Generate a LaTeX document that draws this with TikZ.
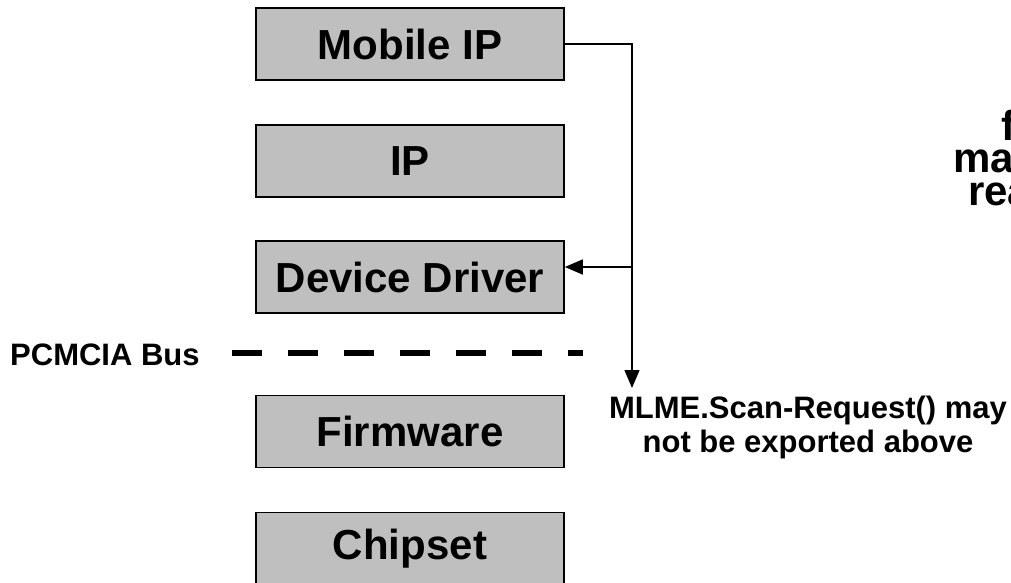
\documentclass[tikz,border=0pt]{standalone}
\usepackage{fontspec}
\setmainfont{Liberation Sans}
\usetikzlibrary{arrows.meta}
\begin{document}
\begin{tikzpicture}[x=1pt,y=-1pt,
  layer/.style={draw=black,line width=1.6pt,fill=black!25,minimum width=308pt,minimum height=72pt,inner sep=0pt,font=\fontsize{42}{48}\selectfont\bfseries},
  conn/.style={line width=1.5pt},
  tip/.style={-{Triangle[length=18pt,width=15pt]}},
  lbl/.style={font=\fontsize{31}{34}\selectfont\bfseries,inner sep=0pt},
  side/.style={font=\fontsize{42}{46}\selectfont\bfseries,inner sep=0pt,anchor=base west,text depth=0pt}]
\clip (0,0) rectangle (1011,583);
\useasboundingbox (0,0) rectangle (1011,583);
\node[layer] (mip) at (410,44) {Mobile IP};
\node[layer] (ip) at (410,161) {IP};
\node[layer] (dd) at (410,277) {Device Driver};
\node[layer] (fw) at (410,431.5) {Firmware};
\node[layer] (cs) at (410,548.5) {Chipset};
\coordinate (turn) at (632,44);
\coordinate (split) at (632,267);
\coordinate (end) at (632,388);
\draw[conn] (mip.east) -- (turn) -- (split);
\draw[conn,tip] (split) -- (end);
\draw[conn,tip] (split) -- (dd.east |- split);
\node[lbl,anchor=west] (bus) at (10,355) {PCMCIA Bus};
\coordinate (busA) at (232,353);
\coordinate (busB) at (583,353);
\draw[line width=6pt,dash pattern=on 30pt off 26pt] (busA) -- (busB);
\node[lbl,align=center,anchor=north] (mlme) at (808,396) {MLME.Scan-Request() may\\not be exported above};
\node[side,text height=0.74em] (t1) at (1001,140) {f};
\node[side,text height=0.53em] (t2) at (953,172) {ma};
\node[side,text height=0.53em] (t3) at (968,205) {rea};
\end{tikzpicture}
\end{document}
